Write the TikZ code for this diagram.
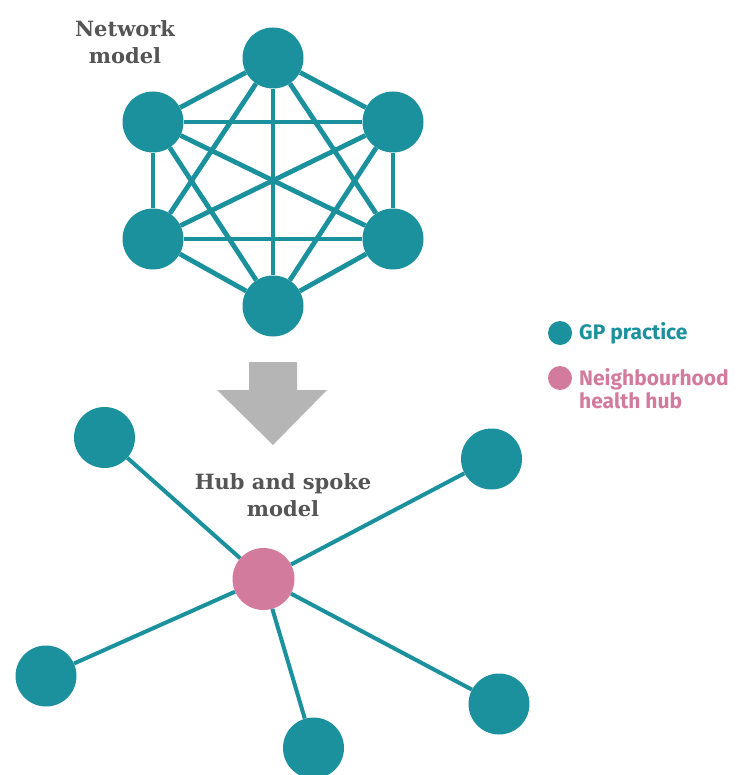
\documentclass[tikz,border=0pt]{standalone}
\usepackage{fontspec}
\setmainfont{DejaVu Serif}
\newfontfamily\legendfont{Fira Sans}
\definecolor{gpteal}{HTML}{1A919D}
\definecolor{hubpink}{HTML}{D27B9C}
\definecolor{arrowgrey}{HTML}{B5B5B5}
\definecolor{labelgrey}{HTML}{555555}

\tikzset{
  practice/.style={circle, fill=gpteal, minimum size=61pt, inner sep=0pt},
  hub/.style={circle, fill=hubpink, minimum size=62pt, inner sep=0pt},
  link/.style={draw=gpteal, line width=4.8pt},
  spoke/.style={draw=gpteal, line width=4pt},
  modeltitle/.style={font=\fontsize{21}{27}\selectfont\bfseries, text=labelgrey, align=center, inner sep=0pt},
  legenddot/.style={circle, fill=#1, minimum size=24pt, inner sep=0pt},
  legendtext/.style={font=\legendfont\fontsize{21}{23}\selectfont\bfseries, anchor=west, align=left, inner sep=0pt}
}

\begin{document}
\begin{tikzpicture}[x=1pt,y=-1pt]
  \useasboundingbox (0,0) rectangle (739,775);
  % network model
  \node[practice] (n1) at (273,58) {};
  \node[practice] (n2) at (393,122) {};
  \node[practice] (n3) at (393,239) {};
  \node[practice] (n4) at (273,306) {};
  \node[practice] (n5) at (153,239) {};
  \node[practice] (n6) at (153,122) {};
  \foreach \a/\b in {1/2,1/3,1/4,1/5,1/6,2/3,2/4,2/5,2/6,3/4,3/5,3/6,4/5,4/6,5/6}
    \draw[link] (n\a) -- (n\b);
  \node[modeltitle] (nettitle) at (125,42) {Network\\model};

  % arrow down
  \fill[arrowgrey] (249,362) -- (297,362) -- (297,390) -- (327,390) -- (273,445)
    -- (217,390) -- (249,390) -- cycle;
  \node[modeltitle] (hubtitle) at (283,495) {Hub and spoke\\model};

  % hub and spoke model
  \node[hub] (hub) at (263.5,579) {};
  \node[practice] (s1) at (104.5,437.5) {};
  \node[practice] (s2) at (491.5,459) {};
  \node[practice] (s3) at (499,704) {};
  \node[practice] (s4) at (313.5,748) {};
  \node[practice] (s5) at (46,676) {};
  \foreach \s in {1,...,5}
    \draw[spoke] (hub) -- (s\s);

  % legend
  \node[legenddot=gpteal] (gpdot) at (560,333) {};
  \node[legendtext, text=gpteal] (gptext) at (579,333) {GP practice};
  \node[legenddot=hubpink] (hubdot) at (560,378) {};
  \node[legendtext, text=hubpink] (hubtext) at (579,389) {Neighbourhood\\health hub};
\end{tikzpicture}
\end{document}
